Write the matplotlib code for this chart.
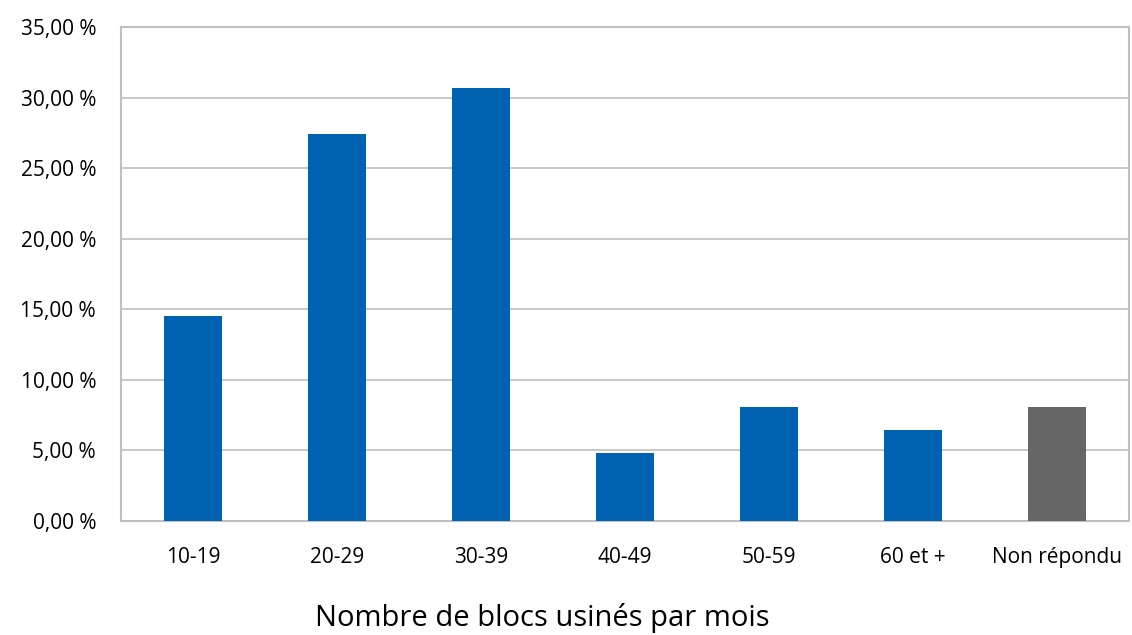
import matplotlib
matplotlib.use('Agg')
import matplotlib.pyplot as plt
from matplotlib.ticker import FuncFormatter

categories = ['10-19', '20-29', '30-39', '40-49', '50-59', '60 et +', 'Non répondu']
values = [14.52, 27.42, 30.65, 4.84, 8.06, 6.45, 8.06]
colors = ['#0063B1'] * 6 + ['#666666']
yticks = [0, 5, 10, 15, 20, 25, 30, 35]

plt.rcParams['font.family'] = ['Open Sans', 'DejaVu Sans']

fig = plt.figure(figsize=(11.32, 6.35), dpi=100)
ax = fig.add_axes([0.1069, 0.1795, 0.8905, 0.778])

x = range(len(categories))
ax.bar(x, values, color=colors, width=0.4, zorder=3)

ax.set_xlim(-0.5, len(categories) - 0.5)
ax.set_ylim(0, 35)
ax.set_yticks(yticks)
ax.yaxis.set_major_formatter(FuncFormatter(lambda v, p: f'{v:.2f}'.replace('.', ',') + ' %'))
ax.set_xticks(list(x))
ax.set_xticklabels(categories)

ax.grid(axis='y', color='#BFBFBF', linewidth=1.2, zorder=0)
for s in ax.spines.values():
    s.set_color('#BFBFBF')
    s.set_linewidth(1.5)

ax.tick_params(axis='both', length=0, labelsize=15, colors='black')
ax.tick_params(axis='x', pad=19)
ax.tick_params(axis='y', pad=18)

# le titre de l'axe est décalé vers la gauche dans l'original
ax.set_xlabel('Nombre de blocs usinés par mois', fontsize=21)
ax.xaxis.set_label_coords(0.4177, -0.165)

fig.savefig('out.png', dpi=100)
